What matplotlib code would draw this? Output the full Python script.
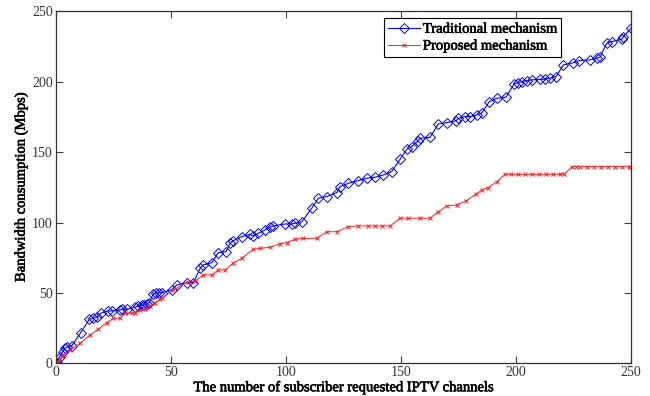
import matplotlib.pyplot as plt
import matplotlib.patheffects as pe

# Traditional mechanism (blue diamonds)
trad_x = [0, 0.5, 1.9, 3.1, 4.1, 5.1, 7.0, 10.9, 14.7, 16.4, 18.2, 19.6, 22.9, 24.4,
          28.0, 28.8, 31.2, 34.5, 36.0, 37.4, 38.4, 39.6, 40.7, 42.5, 43.7, 45.1,
          46.1, 50.5, 52.6, 57.0, 59.9, 62.8, 64.2, 67.9, 70.7, 74.1, 75.8, 77.2,
          80.9, 84.5, 85.9, 88.1, 91.0, 93.2, 94.6, 99.7, 102.6, 104.0, 107.0,
          111.3, 114.2, 117.8, 122.2, 123.6, 127.2, 131.5, 135.2, 138.8, 142.4,
          146.0, 149.7, 152.6, 154.7, 157.6, 158.3, 162.7, 166.3, 169.9, 174.0,
          175.0, 177.9, 180.1, 183.0, 185.1, 188.4, 191.7, 195.7, 199.2, 201.0,
          202.5, 205.0, 206.9, 210.5, 212.6, 214.8, 217.4, 220.6, 224.9, 227.5,
          232.2, 235.1, 236.5, 239.4, 241.6, 246.0, 246.7, 250.0]
trad_y = [0, 0.4, 4.7, 8.2, 10.7, 11.8, 12.3, 21.7, 31.3, 32.0, 33.1, 35.5, 37.2, 37.2,
          37.9, 38.6, 38.4, 39.8, 40.7, 41.2, 41.4, 42.1, 43.1, 49.3, 49.8, 50.2,
          50.2, 52.1, 55.6, 57.3, 57.3, 67.5, 69.9, 71.5, 78.6, 79.3, 85.3, 87.1,
          90.0, 91.7, 90.5, 92.4, 94.7, 96.7, 97.6, 99.0, 99.0, 99.5, 100.6,
          110.2, 117.3, 118.4, 121.3, 125.5, 127.9, 129.8, 131.5, 132.2, 133.8,
          136.2, 145.0, 152.1, 153.9, 158.2, 159.9, 160.6, 170.1, 171.0, 172.4,
          174.1, 175.3, 175.3, 176.5, 177.7, 185.9, 188.3, 189.1, 198.5, 199.4,
          200.1, 200.9, 201.4, 201.8, 201.8, 202.6, 203.7, 212.0, 213.6, 215.1,
          215.6, 216.8, 217.5, 227.4, 228.6, 230.3, 232.1, 238.1]

# Proposed mechanism (red crosses)
prop_x = [0, 0.5, 1.9, 3.4, 6.3, 10.6, 15.0, 18.6, 22.2, 25.1, 28.0, 30.2, 33.1, 34.5,
          36.7, 38.9, 41.1, 43.2, 45.4, 46.1, 51.2, 57.7, 60.6, 64.2, 67.9, 70.7,
          73.6, 77.2, 80.9, 85.9, 88.8, 93.2, 97.5, 100.4, 104.0, 107.6, 113.5,
          117.8, 122.2, 127.2, 131.5, 135.9, 138.8, 141.7, 145.3, 149.7, 153.3,
          158.3, 162.7, 166.3, 169.9, 174.3, 178.3, 182.7, 185.3, 188.0, 191.7,
          195.3, 198, 201, 204, 207, 210, 213, 216, 219, 221, 224.2, 226, 228,
          231, 234, 237, 240, 243, 246, 249, 250]
prop_y = [0, 0.4, 2.8, 5.9, 9.5, 14.2, 20.1, 24.2, 28.9, 32.0, 32.0, 35.5, 35.5, 36.0,
          37.9, 38.4, 40.7, 43.1, 45.5, 46.2, 52.1, 58.0, 58.5, 62.8, 62.8, 66.3,
          66.3, 71.1, 74.6, 81.0, 81.7, 82.4, 84.8, 85.7, 88.1, 88.8, 88.8,
          93.5, 93.5, 97.1, 97.6, 97.6, 97.6, 97.6, 97.6, 103.1, 103.1,
          103.1, 103.1, 107.7, 111.8, 112.5, 115.4, 120.3, 123.2, 124.8, 129.1,
          134.3, 134.3, 134.3, 134.3, 134.3, 134.3, 134.3, 134.3, 134.3, 134.3,
          139.7, 139.7, 139.7, 139.7, 139.7, 139.7, 139.7, 139.7, 139.7, 139.7, 139.7]

plt.rcParams['font.family'] = 'Liberation Serif'

fig = plt.figure(figsize=(6.5, 3.96), dpi=100)
ax = fig.add_axes([0.0854, 0.0826, 0.8854, 0.8884])

ax.plot(trad_x, trad_y, color="#0000ff", lw=0.8, marker="D", markersize=5,
        markerfacecolor="none", markeredgewidth=0.7, label="Traditional mechanism")
ax.plot(prop_x, prop_y, color="#ff2020", lw=0.7, marker="x", markersize=3.5,
        markeredgewidth=0.7, label="Proposed mechanism")

ax.set_xlim(0, 250)
ax.set_ylim(0, 250)
ax.set_xticks(range(0, 251, 50))
ax.set_yticks(range(0, 251, 50))
ax.tick_params(direction="in", top=True, right=True, length=5, width=0.8,
               labelsize=10, colors="#444444", labelcolor="#333333", pad=2)
for s in ax.spines.values():
    s.set_color("#333333")
    s.set_linewidth(0.9)

# slightly heavier strokes, like the original rendering
thick = [pe.withStroke(linewidth=0.45, foreground="black")]

ax.set_xlabel("The number of subscriber requested IPTV channels", fontsize=10.5,
              labelpad=1, path_effects=thick)
ax.set_ylabel("Bandwidth consumption (Mbps)", fontsize=10.5, labelpad=3,
              path_effects=thick)

leg = ax.legend(loc="upper right", bbox_to_anchor=(0.878, 0.981), borderaxespad=0,
                fancybox=False, edgecolor="black", framealpha=1, handlelength=2.2,
                prop={"family": "Liberation Serif", "size": 10.5},
                borderpad=0.3, labelspacing=0.25, handletextpad=0.2)
leg.get_frame().set_linewidth(0.8)
for t in leg.get_texts():
    t.set_path_effects(thick)

plt.savefig("out.png", dpi=100)
